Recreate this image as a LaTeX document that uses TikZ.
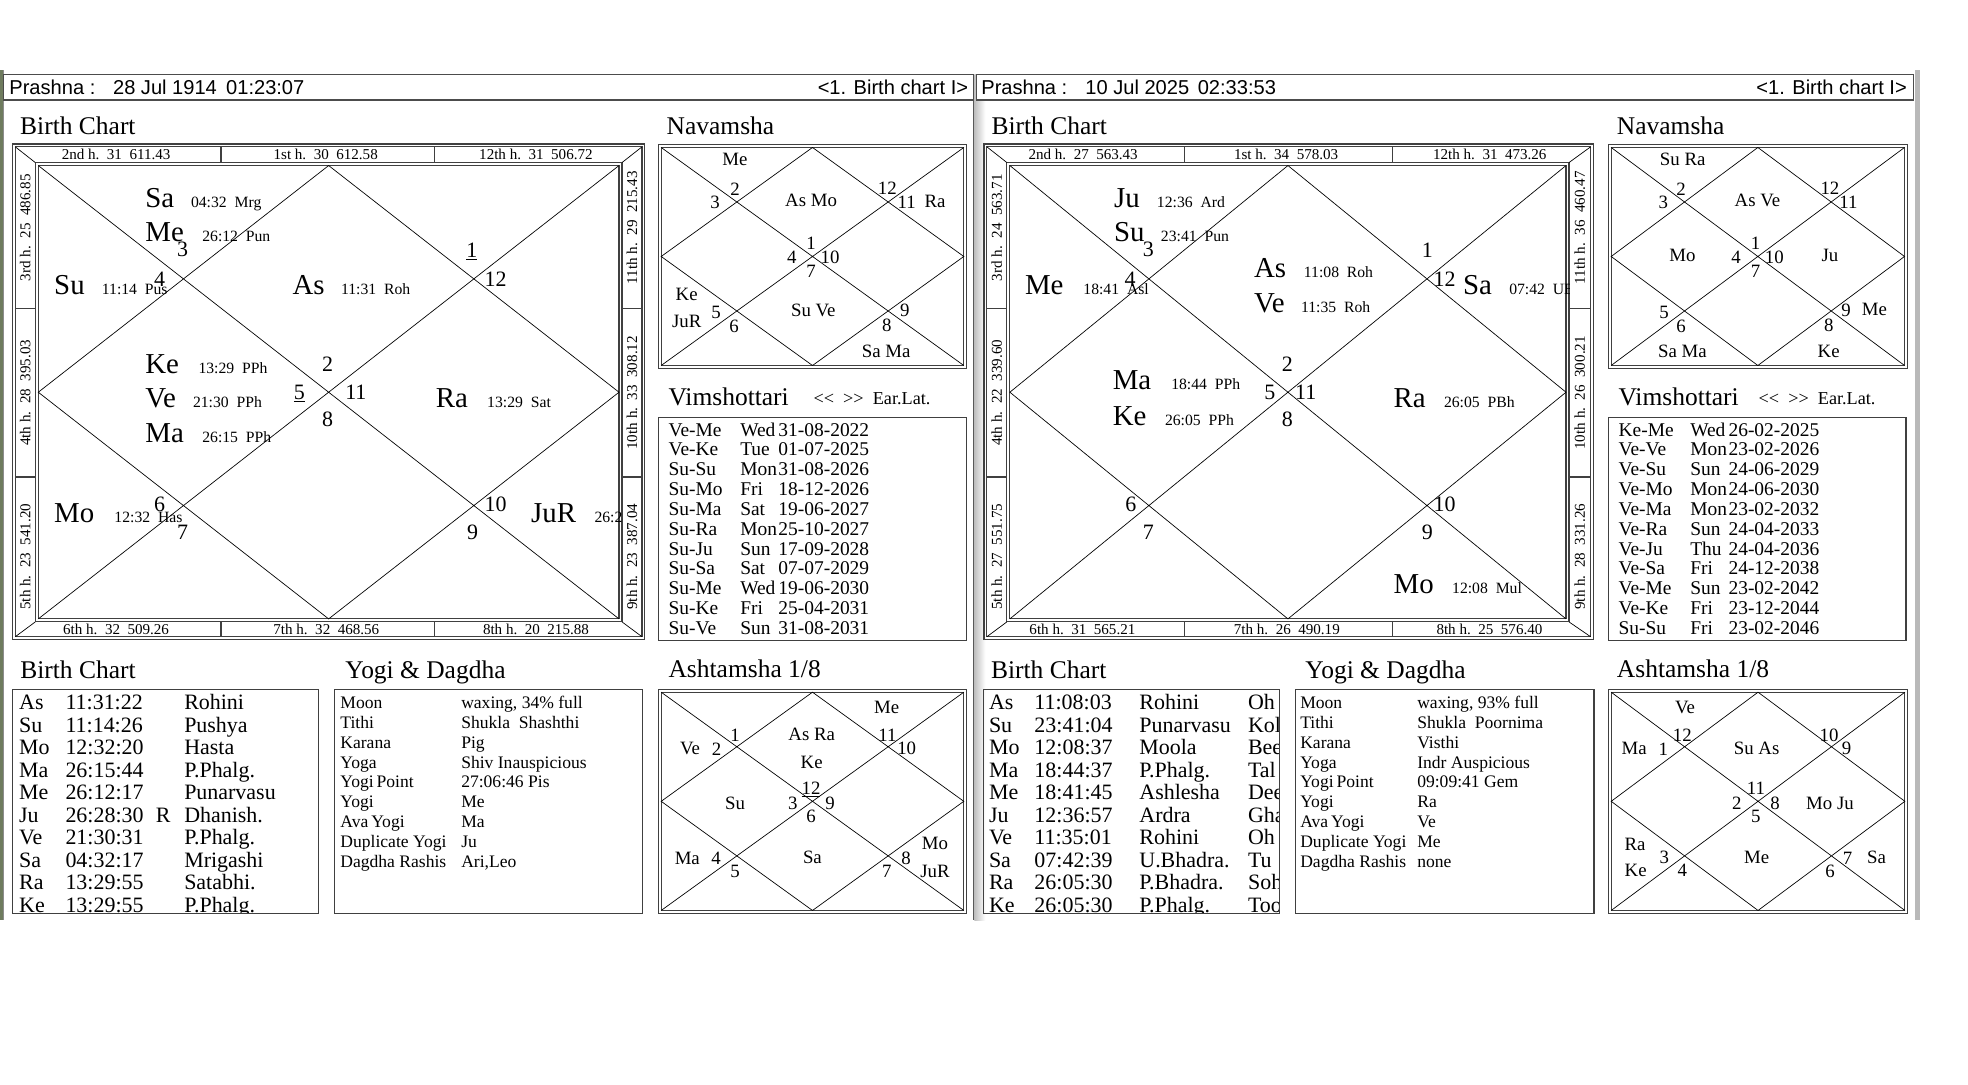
\documentclass[tikz,border=0pt]{standalone}
\usepackage{fontspec}
\setmainfont{Liberation Serif}
\newfontfamily\hsans{Liberation Sans}
\usetikzlibrary{calc}
\newcommand\fs[1]{\fontsize{#1}{#1}\selectfont}
\newcounter{nn}
\newcommand\T[4][dv]{\stepcounter{nn}\edef\nm{n\arabic{nn}}\node[#1] (\nm) at (#2,#3) {#4};}
\newcommand\PL[5]{\T[bigp]{#1}{#2}{#3}\T[smp]{#4}{#2}{#5}}
\newcommand\kund[4]{\draw[diag] (#1,#2) -- (#3,#4) (#1,#4) -- (#3,#2)
  ({(#1+#3)/2},#2) -- (#3,{(#2+#4)/2}) -- ({(#1+#3)/2},#4) -- (#1,{(#2+#4)/2}) -- cycle;}
\newcommand\dbox[4]{\draw[frame] (#1,#2) rectangle (#3,#4);
  \draw[frame] ({#1+2.3},{#2+2.3}) rectangle ({#3-2.3},{#4-2.3});}
\newcommand\bchart[6]{%
  \dbox{#1}{114.7}{#2}{509.6}
  \draw[frame] (#3,129.5) rectangle (#4,495.5);
  \draw[frame] ({#3+2.4},131.9) rectangle ({#4-2.4},493.1);
  \draw[diag] ({#1+2.3},117) -- (#3,129.5) ({#2-2.3},117) -- (#4,129.5)
    ({#1+2.3},507.3) -- (#3,495.5) ({#2-2.3},507.3) -- (#4,495.5);
  \draw[frame] (#5,117) -- (#5,129.5) (#6,117) -- (#6,129.5)
    (#5,495.5) -- (#5,507.3) (#6,495.5) -- (#6,507.3)
    ({#1+2.3},245.9) -- (#3,245.9) ({#1+2.3},380) -- (#3,380)
    (#4,245.9) -- ({#2-2.3},245.9) (#4,380) -- ({#2-2.3},380);
  \kund{#3+2.4}{131.9}{#4-2.4}{493.1}}
\definecolor{moss}{HTML}{6E7B5E}
\begin{document}
\begin{tikzpicture}[x=1pt,y=-1pt,
 hdr/.style={font=\hsans\fs{16}, inner sep=0pt, anchor=base west},
 ttl/.style={font=\fs{20.3}, inner sep=0pt, anchor=base west},
 strp/.style={font=\fs{12}, inner sep=0pt, text height=8.1pt, text depth=0pt, anchor=center},
 bigp/.style={font=\fs{23}, inner sep=0pt, anchor=base west},
 smp/.style={font=\fs{12.5}, inner sep=0pt, anchor=base west},
 hno/.style={font=\fs{17.5}, inner sep=0pt, text height=11.8pt, text depth=0pt, anchor=center},
 dv/.style={font=\fs{15}, inner sep=0pt, text height=10pt, text depth=0pt, anchor=center},
 sml/.style={font=\fs{14.5}, inner sep=0pt, anchor=base west},
 vrow/.style={font=\fs{15.5}, inner sep=0pt, anchor=base west},
 trow/.style={font=\fs{17.5}, inner sep=0pt, anchor=base west},
 yrow/.style={font=\fs{14}, inner sep=0pt, anchor=base west},
 frame/.style={draw=black!75, line width=0.9pt},
 diag/.style={draw=black, line width=0.55pt},
 hbox/.style={draw=black!70, line width=0.9pt, fill=white}]
\useasboundingbox (0,0) rectangle (1568,864);
\fill[white] (0,0) rectangle (1568,864);
% window edges
\fill[moss] (0,56) rectangle (2.6,733);
\draw[black!45, line width=0.8pt] (3,56) -- (3,733);
\fill[gray!55] (1525.5,56) rectangle (1530,733);
\shade[left color=gray!50, right color=white] (776.3,59.7) rectangle (785,733);
\draw[black!65, line width=1pt] (775.8,59.7) -- (775.8,733);
% headers
\draw[hbox] (3,59.7) rectangle (775.5,79.7);
\draw[hbox] (778.2,59.7) rectangle (1524.7,79.7);
\T[hdr]{7.3}{75}{Prashna :}
\T[hdr]{89.9}{75}{28 Jul 1914}
\T[hdr]{180}{75}{01:23:07}
\T[hdr,anchor=base east]{771.5}{75}{<1. Birth chart I>}
\T[hdr]{781.7}{75}{Prashna :}
\T[hdr]{864.6}{75}{10 Jul 2025}
\T[hdr]{954.1}{75}{02:33:53}
\T[hdr,anchor=base east]{1519.4}{75}{<1. Birth chart I>}
% titles
\T[ttl]{15.9}{107}{Birth Chart}
\T[ttl]{531}{107}{Navamsha}
\T[ttl]{532.5}{323}{Vimshottari}
\T[sml]{648}{322}{<\kern0pt<\ \ >\kern0pt>\ \ Ear.Lat.}
\T[ttl]{16}{540.5}{Birth Chart}
\T[ttl]{275}{540.5}{Yogi \& Dagdha}
\T[ttl]{532.5}{540}{Ashtamsha 1/8}
\T[ttl]{789.8}{107}{Birth Chart}
\T[ttl]{1288.1}{107}{Navamsha}
\T[ttl]{1289.4}{323}{Vimshottari}
\T[sml]{1401}{322}{<\kern0pt<\ \ >\kern0pt>\ \ Ear.Lat.}
\T[ttl]{789.4}{540.5}{Birth Chart}
\T[ttl]{1039.9}{540.5}{Yogi \& Dagdha}
\T[ttl]{1288.1}{540}{Ashtamsha 1/8}

% ===== LEFT BIRTH CHART =====
\bchart{9.9}{513.8}{28.1}{495.6}{176.1}{346.3}
\T[strp]{92.5}{123.3}{2nd h.\ \ 31\ \ 611.43}
\T[strp]{259.5}{123.3}{1st h.\ \ 30\ \ 612.58}
\T[strp]{427}{123.3}{12th h.\ \ 31\ \ 506.72}
\T[strp]{92.5}{501.6}{6th h.\ \ 32\ \ 509.26}
\T[strp]{260}{501.6}{7th h.\ \ 32\ \ 468.56}
\T[strp]{427}{501.6}{8th h.\ \ 20\ \ 215.88}
\T[strp,rotate=90]{20.2}{181.5}{3rd h.\ \ 25\ \ 486.85}
\T[strp,rotate=90]{20.2}{313}{4th h.\ \ 28\ \ 395.03}
\T[strp,rotate=90]{20.2}{443.6}{5th h.\ \ 23\ \ 541.20}
\T[strp,rotate=90]{503.5}{181.5}{11th h.\ \ 29\ \ 215.43}
\T[strp,rotate=90]{503.5}{313}{10th h.\ \ 33\ \ 308.12}
\T[strp,rotate=90]{503.5}{443.6}{9th h.\ \ 23\ \ 387.04}
\begin{scope}
\clip (28.1,129.5) rectangle (495.6,495.5);
\PL{115.6}{165.4}{Sa}{152}{04:32\ \ Mrg}
\PL{115.6}{192.8}{Me}{161}{26:12\ \ Pun}
\PL{43}{234.7}{Su}{81}{11:14\ \ Pus}
\PL{232.9}{234.7}{As}{271.6}{11:31\ \ Roh}
\PL{115.6}{297.5}{Ke}{158}{13:29\ \ PPh}
\PL{115.6}{324.6}{Ve}{153.6}{21:30\ \ PPh}
\PL{115.6}{352.9}{Ma}{161}{26:15\ \ PPh}
\PL{347}{324.6}{Ra}{388}{13:29\ \ Sat}
\PL{43}{416}{Mo}{91}{12:32\ \ Has}
\PL{423}{416}{JuR}{473.5}{26:28\ \ Dha}
\end{scope}
\T[hno]{145.4}{198.7}{3}
\T[hno]{127.2}{222.3}{4}
\T[hno]{376}{199.6}{\underline{1}}
\T[hno]{394.8}{222.3}{12}
\T[hno]{261}{290}{2}
\T[hno]{238.5}{312.2}{\underline{5}}
\T[hno]{283.5}{312.2}{11}
\T[hno]{261}{334.3}{8}
\T[hno]{127.2}{402}{6}
\T[hno]{145.4}{424.2}{7}
\T[hno]{394.8}{402}{10}
\T[hno]{376.6}{424.2}{9}

% ===== LEFT NAVAMSHA =====
\dbox{524.5}{115.2}{770.2}{293.5}
\kund{526.8}{117.5}{767.9}{291.2}
\T{585.6}{127.2}{Me}
\T{585.6}{151}{2}
\T{569.7}{160.8}{3}
\T{646.2}{159.9}{As Mo}
\T{707}{150.1}{12}
\T{722.4}{160.8}{11}
\T{745}{160}{Ra}
\T{646.2}{193.7}{1}
\T{630.8}{204.9}{4}
\T{661.3}{204.9}{10}
\T{646.2}{216.1}{7}
\T{547.1}{234.8}{Ke}
\T{547.1}{256.3}{JuR}
\T{570.5}{248.8}{5}
\T{584.8}{260}{6}
\T{648}{246.8}{Su Ve}
\T{721}{247.4}{9}
\T{706.5}{259.4}{8}
\T{706}{279.5}{Sa Ma}

% ===== LEFT VIMSHOTTARI =====
\draw[frame] (524.5,332.7) rectangle (770.2,510.1);
\foreach \da/\db/\dc [count=\i from 0] in {Ve-Me/Wed/31-08-2022, Ve-Ke/Tue/01-07-2025,
  Su-Su/Mon/31-08-2026, Su-Mo/Fri/18-12-2026, Su-Ma/Sat/19-06-2027, Su-Ra/Mon/25-10-2027,
  Su-Ju/Sun/17-09-2028, Su-Sa/Sat/07-07-2029, Su-Me/Wed/19-06-2030, Su-Ke/Fri/25-04-2031,
  Su-Ve/Sun/31-08-2031}{
  \pgfmathsetmacro\yy{347.5+15.8*\i}
  \T[vrow]{532.5}{\yy}{\da}\T[vrow]{589.6}{\yy}{\db}\T[vrow]{620}{\yy}{\dc}}

% ===== LEFT BIRTH TABLE =====
\draw[frame] (10,549.2) rectangle (253.9,727.7);
\begin{scope}
\clip (10,549.2) rectangle (253.9,727.2);
\foreach \pa/\tm/\rr/\nk [count=\i from 0] in {As/11:31:22//Rohini, Su/11:14:26//Pushya,
  Mo/12:32:20//Hasta, Ma/26:15:44//P.Phalg., Me/26:12:17//Punarvasu, Ju/26:28:30/R/Dhanish.,
  Ve/21:30:31//P.Phalg., Sa/04:32:17//Mrigashi, Ra/13:29:55//Satabhi., Ke/13:29:55//P.Phalg.}{
  \pgfmathsetmacro\yy{565.4+17.95*\i}
  \T[trow]{15.1}{\yy}{\pa}\T[trow]{52}{\yy}{\tm}\T[trow]{124}{\yy}{\rr}\T[trow]{146.6}{\yy}{\nk}}
\end{scope}

% ===== LEFT YOGI =====
\draw[frame] (266.6,549.2) rectangle (512.2,727.7);
\foreach \la/\va [count=\i from 0] in {Moon/{waxing, 34\% full}, Tithi/{Shukla\ \ Shashthi},
  Karana/Pig, Yoga/{Shiv Inauspicious}, Yogi\,Point/{27:06:46 Pis}, Yogi/Me, Ava\,Yogi/Ma,
  Duplicate Yogi/Ju, Dagdha Rashis/{Ari,Leo}}{
  \pgfmathsetmacro\yy{564.2+15.9*\i}
  \T[yrow]{271}{\yy}{\la}\T[yrow]{367.3}{\yy}{\va}}

% ===== LEFT ASHTAMSHA =====
\dbox{524.5}{549.2}{770.2}{727.7}
\kund{526.8}{551.5}{767.9}{725.4}
\T{706.5}{563.1}{Me}
\T{549.8}{596.3}{Ve}
\T{571}{596.8}{2}
\T{585.6}{585.6}{1}
\T{646.7}{584.8}{As Ra}
\T{646.7}{606.9}{Ke}
\T{707}{585.6}{11}
\T{722.4}{596.3}{10}
\T{585.6}{640.1}{Su}
\T{631.6}{640.1}{3}
\T{646.2}{628.1}{\underline{12}}
\T{661.3}{640.1}{9}
\T{646.2}{650.7}{6}
\T{547.6}{683.9}{Ma}
\T{570.5}{683.9}{4}
\T{585.6}{694.5}{5}
\T{647.3}{683.1}{Sa}
\T{721.9}{683.9}{8}
\T{706.5}{694.5}{7}
\T{745}{672}{Mo}
\T{745}{694.5}{JuR}

% ===== RIGHT BIRTH CHART =====
\bchart{784}{1269.6}{802.2}{1250.1}{943.4}{1109.3}
\T[strp]{863}{123.3}{2nd h.\ \ 27\ \ 563.43}
\T[strp]{1024.7}{123.3}{1st h.\ \ 34\ \ 578.03}
\T[strp]{1187}{123.3}{12th h.\ \ 31\ \ 473.26}
\T[strp]{862.4}{501.6}{6th h.\ \ 31\ \ 565.21}
\T[strp]{1025.3}{501.6}{7th h.\ \ 26\ \ 490.19}
\T[strp]{1186.7}{501.6}{8th h.\ \ 25\ \ 576.40}
\T[strp,rotate=90]{794.2}{181.5}{3rd h.\ \ 24\ \ 563.71}
\T[strp,rotate=90]{794.2}{313}{4th h.\ \ 22\ \ 339.60}
\T[strp,rotate=90]{794.2}{443.6}{5th h.\ \ 27\ \ 551.75}
\T[strp,rotate=90]{1258.7}{181.5}{11th h.\ \ 36\ \ 460.47}
\T[strp,rotate=90]{1258.7}{313}{10th h.\ \ 26\ \ 300.21}
\T[strp,rotate=90]{1258.7}{443.6}{9th h.\ \ 28\ \ 331.26}
\begin{scope}
\clip (802.2,129.5) rectangle (1250.1,495.5);
\PL{887.4}{165.4}{Ju}{921.6}{12:36\ \ Ard}
\PL{887.4}{192.8}{Su}{924.8}{23:41\ \ Pun}
\PL{816.5}{234.7}{Me}{863}{18:41\ \ Asl}
\PL{999}{220.8}{As}{1038.7}{11:08\ \ Roh}
\PL{999}{248.8}{Ve}{1036.4}{11:35\ \ Roh}
\PL{1165.5}{234.7}{Sa}{1202.3}{07:42\ \ UBh}
\PL{886.4}{310.7}{Ma}{933}{18:44\ \ PPh}
\PL{886.4}{338.7}{Ke}{928}{26:05\ \ PPh}
\PL{1110.2}{324.6}{Ra}{1150.3}{26:05\ \ PBh}
\PL{1110.2}{472.8}{Mo}{1156.8}{12:08\ \ Mul}
\end{scope}
\T[hno]{915}{198.7}{3}
\T[hno]{900.4}{222.3}{4}
\T[hno]{1137.2}{199.6}{1}
\T[hno]{1150.9}{222.3}{12}
\T[hno]{1025.6}{290}{2}
\T[hno]{1011.7}{312.2}{5}
\T[hno]{1040.3}{312.2}{11}
\T[hno]{1025.6}{334.3}{8}
\T[hno]{901}{402}{6}
\T[hno]{915}{424.2}{7}
\T[hno]{1150.9}{402}{10}
\T[hno]{1137.2}{424.2}{9}

% ===== RIGHT NAVAMSHA =====
\dbox{1281.4}{115.2}{1519.7}{293.5}
\kund{1283.7}{117.5}{1517.4}{291.2}
\T{1340.7}{126.7}{Su Ra}
\T{1339.3}{151}{2}
\T{1325.3}{161.3}{3}
\T{1400.2}{159.9}{As Ve}
\T{1458}{150.1}{12}
\T{1472.7}{161.3}{11}
\T{1340.4}{203.5}{Mo}
\T{1383.2}{204.9}{4}
\T{1398.8}{193.7}{1}
\T{1413.7}{204.9}{10}
\T{1398.8}{216.1}{7}
\T{1458}{203.5}{Ju}
\T{1325.8}{248.8}{5}
\T{1339.3}{260}{6}
\T{1470.8}{247.4}{9}
\T{1493.4}{246.6}{Me}
\T{1457}{259.4}{8}
\T{1340.4}{279.5}{Sa Ma}
\T{1457}{279.5}{Ke}

% ===== RIGHT VIMSHOTTARI =====
\draw[frame] (1281.4,332.7) rectangle (1518.6,510.1);
\foreach \da/\db/\dc [count=\i from 0] in {Ke-Me/Wed/26-02-2025, Ve-Ve/Mon/23-02-2026,
  Ve-Su/Sun/24-06-2029, Ve-Mo/Mon/24-06-2030, Ve-Ma/Mon/23-02-2032, Ve-Ra/Sun/24-04-2033,
  Ve-Ju/Thu/24-04-2036, Ve-Sa/Fri/24-12-2038, Ve-Me/Sun/23-02-2042, Ve-Ke/Fri/23-12-2044,
  Su-Su/Fri/23-02-2046}{
  \pgfmathsetmacro\yy{347.5+15.8*\i}
  \T[vrow]{1289.4}{\yy}{\da}\T[vrow]{1346.5}{\yy}{\db}\T[vrow]{1377}{\yy}{\dc}}

% ===== RIGHT BIRTH TABLE =====
\draw[frame] (783.7,549.2) rectangle (1019.4,727.7);
\begin{scope}
\clip (783.7,549.2) rectangle (1018.9,727.2);
\foreach \pa/\tm/\nk/\ex [count=\i from 0] in {As/11:08:03/Rohini/Oh, Su/23:41:04/Punarvasu/Kol,
  Mo/12:08:37/Moola/Bee, Ma/18:44:37/P.Phalg./Tal, Me/18:41:45/Ashlesha/Dee, Ju/12:36:57/Ardra/Gha,
  Ve/11:35:01/Rohini/Oh, Sa/07:42:39/U.Bhadra./Tu, Ra/26:05:30/P.Bhadra./Soh, Ke/26:05:30/P.Phalg./Too}{
  \pgfmathsetmacro\yy{565.4+17.95*\i}
  \T[trow]{787.8}{\yy}{\pa}\T[trow]{824}{\yy}{\tm}\T[trow]{907.6}{\yy}{\nk}\T[trow]{994.2}{\yy}{\ex}}
\end{scope}

% ===== RIGHT YOGI =====
\draw[frame] (1032,549.2) rectangle (1270,727.7);
\foreach \la/\va [count=\i from 0] in {Moon/{waxing, 93\% full}, Tithi/{Shukla\ \ Poornima},
  Karana/Visthi, Yoga/{Indr Auspicious}, Yogi\,Point/{09:09:41 Gem}, Yogi/Ra, Ava\,Yogi/Ve,
  Duplicate Yogi/Me, Dagdha Rashis/none}{
  \pgfmathsetmacro\yy{564.2+15.9*\i}
  \T[yrow]{1035.8}{\yy}{\la}\T[yrow]{1129}{\yy}{\va}}

% ===== RIGHT ASHTAMSHA =====
\dbox{1281.4}{549.2}{1520}{727.7}
\kund{1283.7}{551.5}{1517.7}{725.4}
\T{1342.5}{563.1}{Ve}
\T{1340.4}{585.6}{12}
\T{1302.1}{596.3}{Ma}
\T{1325.2}{596.8}{1}
\T{1399.6}{596.3}{Su As}
\T{1457.3}{585.6}{10}
\T{1471.3}{596.3}{9}
\T{1399}{628.1}{11}
\T{1383.7}{640.1}{2}
\T{1414.2}{640.1}{8}
\T{1399}{650.7}{5}
\T{1458}{640.1}{Mo Ju}
\T{1302.7}{672.5}{Ra}
\T{1326}{683.1}{3}
\T{1303.2}{693.7}{Ke}
\T{1340.4}{693.7}{4}
\T{1399.6}{683.1}{Me}
\T{1472.1}{683.9}{7}
\T{1495.2}{683.1}{Sa}
\T{1458}{694.5}{6}
\end{tikzpicture}
\end{document}
